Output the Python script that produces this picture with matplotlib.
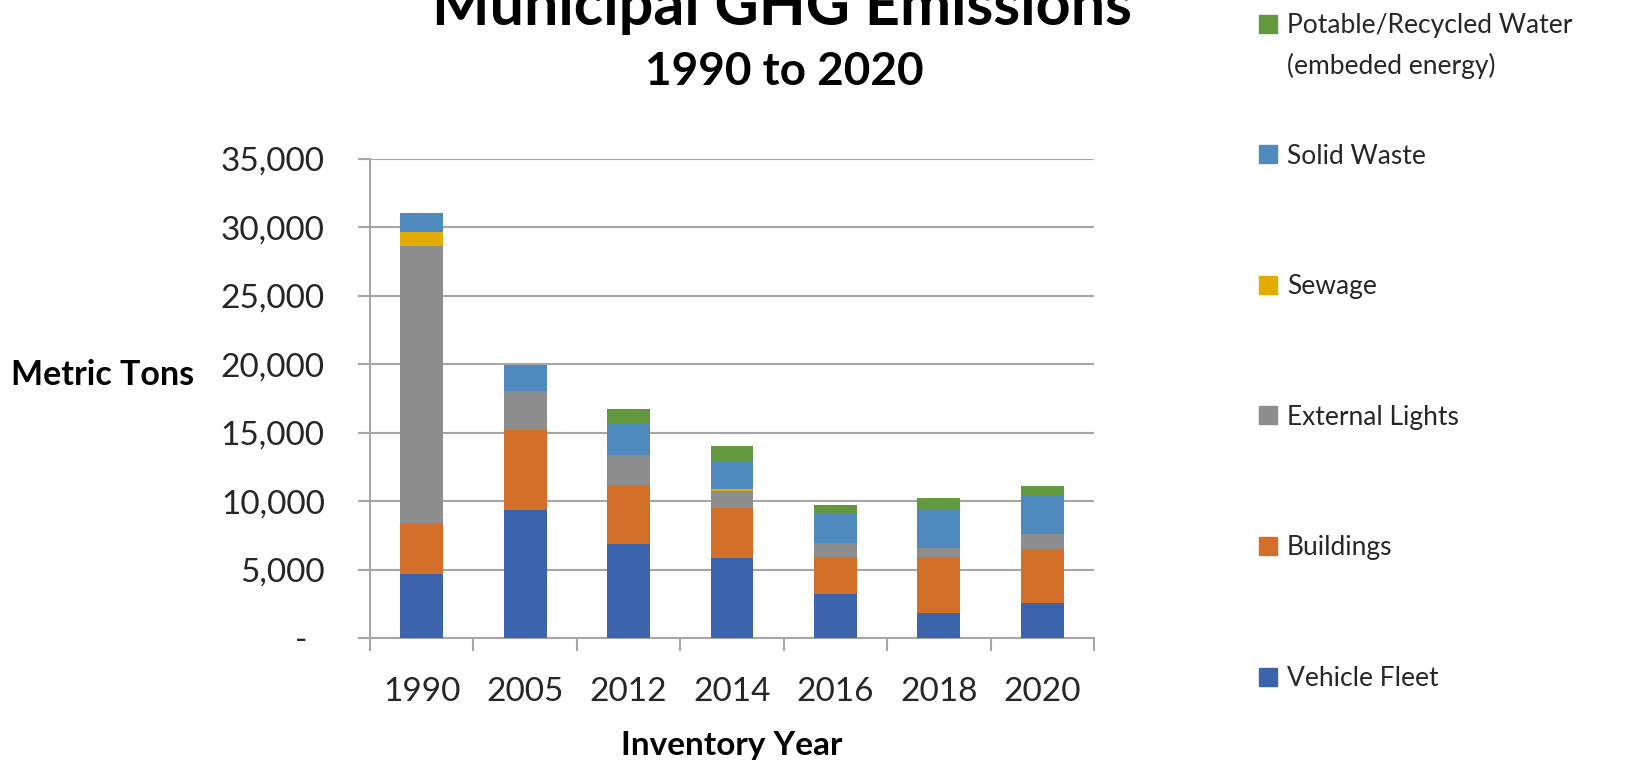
import numpy as np
import matplotlib
matplotlib.use('Agg')
import matplotlib.pyplot as plt
from matplotlib.ticker import FuncFormatter, FixedLocator
from matplotlib.patches import Rectangle

plt.rcParams['font.family'] = ['Lato', 'DejaVu Sans']

# Data (metric tons CO2e)
years = ['1990', '2005', '2012', '2014', '2016', '2018', '2020']
vehicle_fleet = [4640, 9340, 6870, 5850, 3230, 1800, 2580]
buildings = [3780, 5880, 4300, 3640, 2710, 4140, 3890]
external_lights = [20200, 2840, 2180, 1260, 1020, 630, 1140]
sewage = [1040, 0, 0, 170, 0, 0, 0]
solid_waste = [1430, 1920, 2380, 1940, 2130, 2880, 2860]
potable_water = [0, 0, 1020, 1170, 630, 800, 650]

series_names = ['Vehicle Fleet', 'Buildings', 'External Lights', 'Sewage',
                'Solid Waste', 'Potable/Recycled Water\n(embeded energy)']
series_values = [vehicle_fleet, buildings, external_lights, sewage,
                 solid_waste, potable_water]
series_colors = ['#3C64AD', '#D46F2A', '#8E8E8E', '#E3AC00', '#4F8ABF', '#63993E']

W, H = 1629, 760
fig = plt.figure(figsize=(W / 100, H / 100), dpi=100)
# plot area in pixels: x 370..1094, y 159..638
ax = fig.add_axes([370 / W, 1 - 638 / H, (1094 - 370) / W, (638 - 159) / H])

x = np.arange(len(years))
bottom = np.zeros(len(years))
for name, vals, color in zip(series_names, series_values, series_colors):
    vals = np.array(vals, dtype=float)
    ax.bar(x, vals, width=0.415, bottom=bottom, color=color, zorder=3)
    bottom += vals

ax.set_xlim(-0.5, len(years) - 0.5)
ax.set_ylim(0, 35000)
ax.set_yticks(np.arange(0, 35001, 5000))
ax.yaxis.set_major_formatter(FuncFormatter(lambda v, p: '-  ' if v == 0 else f'{int(v):,}'))
ax.set_xticks(x)
ax.set_xticklabels(years)
ax.xaxis.set_minor_locator(FixedLocator(np.arange(-0.5, len(years), 1)))

grid_color = '#A6A6A6'
ax.grid(axis='y', color=grid_color, linewidth=1.5, zorder=0)
ax.set_axisbelow(True)
for s in ['top', 'right']:
    ax.spines[s].set_visible(False)
for s in ['left', 'bottom']:
    ax.spines[s].set_color(grid_color)
    ax.spines[s].set_linewidth(1.5)

text_color = '#262626'
ax.tick_params(axis='y', direction='out', length=8.6, width=1.5, color=grid_color,
               labelsize=24, labelcolor=text_color, pad=24)
ax.tick_params(axis='x', which='major', length=0, labelsize=24,
               labelcolor=text_color, pad=28)
ax.tick_params(axis='x', which='minor', direction='out', length=9.4, width=1.5,
               color=grid_color)

# Axis titles
fig.text(103 / W, 1 - 385 / H, 'Metric Tons', fontsize=24.5, fontweight='bold',
         ha='center', va='baseline', color='black')
fig.text(732 / W, 1 - 755 / H, 'Inventory Year', fontsize=24, fontweight='bold',
         ha='center', va='baseline', color='black')

# Titles
fig.text(782 / W, 1 - 25 / H, 'Municipal GHG Emissions', fontsize=44,
         fontweight='bold', ha='center', va='baseline')
fig.text(784 / W, 1 - 85 / H, '1990 to 2020', fontsize=33,
         fontweight='bold', ha='center', va='baseline')

# Legend (reverse order, widely spaced)
leg_top = 23.5
leg_step = 130.6
line_gap = 41
for i, (name, color) in enumerate(zip(series_names[::-1], series_colors[::-1])):
    yc = leg_top + i * leg_step
    fig.patches.append(Rectangle((1259 / W, 1 - (yc + 9) / H), 18 / W, 18 / H,
                                 transform=fig.transFigure, color=color))
    for j, line in enumerate(name.split('\n')):
        fig.text(1287 / W, 1 - (yc + 9.5 + j * line_gap) / H, line, fontsize=19,
                 color=text_color, va='baseline', ha='left')

fig.savefig('out.png', dpi=100, facecolor='white')
